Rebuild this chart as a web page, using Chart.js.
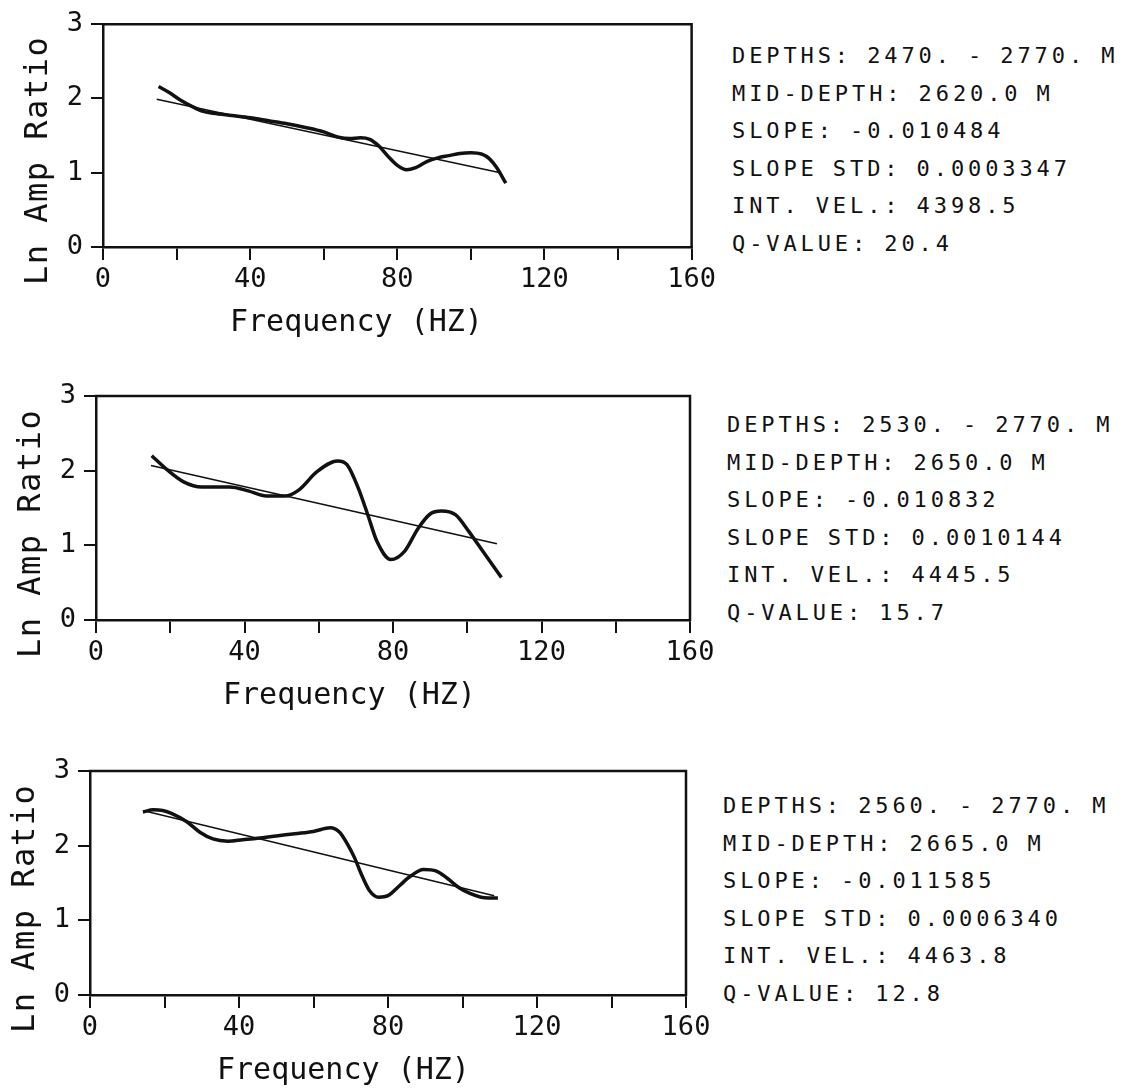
<!DOCTYPE html>
<html>
<head>
<meta charset="utf-8">
<script src="https://cdn.jsdelivr.net/npm/chart.js@4.4.1/dist/chart.umd.min.js"></script>
<style>
html,body{margin:0;padding:0;background:#fff;}
body{width:1123px;height:1091px;overflow:hidden;position:relative;}
canvas{position:absolute;left:0;}
.info{position:absolute;font-family:"DejaVu Sans Mono",monospace;font-size:22px;letter-spacing:3.9px;word-spacing:-2px;color:#111;white-space:pre;line-height:37.6px;}
</style>
</head>
<body>
<canvas id="c1"></canvas>
<canvas id="c2"></canvas>
<canvas id="c3"></canvas>
<div class="info" id="t1"></div>
<div class="info" id="t2"></div>
<div class="info" id="t3"></div>
<script>
// ---------- DATA ----------
const xTickValues = [0, 20, 40, 60, 80, 100, 120, 140, 160];
const xTickLabels = ['0', '40', '80', '120', '160'];
const yTickValues = [0, 1, 2, 3];
const yTickLabels = ['0', '1', '2', '3'];
const xTitle = 'Frequency (HZ)';
const yTitle = 'Ln Amp Ratio';

// Panel 1
const freq1  = [15.1, 18, 21, 24.3, 27, 30, 35, 40, 45, 50, 55, 60, 64, 67, 70, 72.5, 75, 77.5, 80, 82.5, 85, 88, 91, 94, 97, 100, 103, 105, 107, 109.5];
const ratio1 = [2.16, 2.08, 1.98, 1.89, 1.83, 1.80, 1.77, 1.74, 1.70, 1.66, 1.61, 1.55, 1.48, 1.46, 1.47, 1.45, 1.36, 1.22, 1.10, 1.04, 1.07, 1.15, 1.20, 1.23, 1.26, 1.27, 1.25, 1.19, 1.07, 0.86];
const fitFreq1  = [14.6, 108];
const fitRatio1 = [1.99, 1.00];
const info1 = ['DEPTHS: 2470. - 2770. M', 'MID-DEPTH: 2620.0 M', 'SLOPE: -0.010484', 'SLOPE STD: 0.0003347', 'INT. VEL.: 4398.5', 'Q-VALUE: 20.4'];

// Panel 2
const freq2  = [15, 19.2, 23.6, 28.5, 36, 41, 45.9, 50.9, 54.6, 59.6, 65.1, 67.6, 70.7, 73.2, 75.7, 79.4, 83.1, 86.8, 90, 93, 96.8, 100.5, 104.2, 109.2];
const ratio2 = [2.20, 2.01, 1.85, 1.78, 1.78, 1.73, 1.66, 1.66, 1.74, 1.99, 2.13, 2.08, 1.76, 1.41, 1.05, 0.81, 0.92, 1.23, 1.42, 1.46, 1.41, 1.18, 0.92, 0.57];
const fitFreq2  = [14.8, 108];
const fitRatio2 = [2.07, 1.02];
const info2 = ['DEPTHS: 2530. - 2770. M', 'MID-DEPTH: 2650.0 M', 'SLOPE: -0.010832', 'SLOPE STD: 0.0010144', 'INT. VEL.: 4445.5', 'Q-VALUE: 15.7'];

// Panel 3
const freq3  = [14.2, 17, 19.5, 22, 26, 29.5, 33, 37, 41, 45, 50, 55, 60, 64.5, 67, 69, 71, 73, 75, 77.5, 80, 83, 86, 89.5, 93, 96, 99, 102, 105, 107, 109.5];
const ratio3 = [2.45, 2.48, 2.47, 2.43, 2.32, 2.18, 2.09, 2.06, 2.08, 2.10, 2.13, 2.16, 2.19, 2.24, 2.18, 2.03, 1.84, 1.60, 1.40, 1.31, 1.33, 1.46, 1.59, 1.68, 1.66, 1.56, 1.44, 1.36, 1.31, 1.30, 1.30];
const fitFreq3  = [15, 108.5];
const fitRatio3 = [2.46, 1.33];
const info3 = ['DEPTHS: 2560. - 2770. M', 'MID-DEPTH: 2665.0 M', 'SLOPE: -0.011585', 'SLOPE STD: 0.0006340', 'INT. VEL.: 4463.8', 'Q-VALUE: 12.8'];

// ---------- LAYOUT ----------
const CANVAS_W = 720;
const panels = [
  {id:'c1', info:'t1', top:0,   h:360, area:{left:103, top:24,  right:695, bottom:247}, infoX:732, infoY:37,
   fx:freq1, fy:ratio1, lx:fitFreq1, ly:fitRatio1, text:info1},
  {id:'c2', info:'t2', top:360, h:370, area:{left:96,  top:396, right:690, bottom:620}, infoX:727, infoY:406,
   fx:freq2, fy:ratio2, lx:fitFreq2, ly:fitRatio2, text:info2},
  {id:'c3', info:'t3', top:740, h:351, area:{left:90,  top:771, right:686, bottom:995}, infoX:723, infoY:787,
   fx:freq3, fy:ratio3, lx:fitFreq3, ly:fitRatio3, text:info3}
];

const INK = '#111';
const tickFont = {family:'"DejaVu Sans Mono", monospace', size:27};

const framePlugin = {
  id:'frame',
  afterDraw(chart){
    const {ctx, chartArea:a} = chart;
    ctx.save();
    ctx.strokeStyle = INK; ctx.lineWidth = 2.5; ctx.lineCap = 'square';
    ctx.beginPath();
    ctx.moveTo(a.left, a.top); ctx.lineTo(a.right, a.top); ctx.lineTo(a.right, a.bottom);
    ctx.stroke();
    ctx.restore();
  }
};

const titlePlugin = {
  id:'axisTitles',
  afterDraw(chart){
    const {ctx, chartArea:a} = chart;
    ctx.save();
    ctx.fillStyle = INK;
    ctx.font = '30px "DejaVu Sans Mono", monospace';
    ctx.textAlign = 'left'; ctx.textBaseline = 'alphabetic';
    ctx.fillText(xTitle, a.left + 127, a.bottom + 84);
    ctx.translate(a.left - 56, a.bottom + 38);
    ctx.rotate(-Math.PI/2);
    ctx.font = '32px "DejaVu Sans Mono", monospace';
    if ('letterSpacing' in ctx) ctx.letterSpacing = '1.5px';
    ctx.fillText(yTitle, 0, 0);
    ctx.restore();
  }
};

panels.forEach(p => {
  const cv = document.getElementById(p.id);
  cv.width = CANVAS_W; cv.height = p.h;
  cv.style.top = p.top + 'px';
  cv.style.width = CANVAS_W + 'px'; cv.style.height = p.h + 'px';
  const relBottom = p.area.bottom - p.top;
  new Chart(cv.getContext('2d'), {
    type:'line',
    data:{
      datasets:[
        {data:p.fx.map((x,i)=>({x:x, y:p.fy[i]})), borderColor:INK, borderWidth:3.5, pointRadius:0,
         cubicInterpolationMode:'monotone', fill:false},
        {data:p.lx.map((x,i)=>({x:x, y:p.ly[i]})), borderColor:INK, borderWidth:1.6, pointRadius:0,
         tension:0, fill:false}
      ]
    },
    options:{
      responsive:false, animation:false, devicePixelRatio:1,
      layout:{padding:{top:p.area.top - p.top, right:CANVAS_W - p.area.right, left:0, bottom:0}},
      plugins:{legend:{display:false}, tooltip:{enabled:false}, title:{display:false}},
      scales:{
        x:{
          type:'linear', min:0, max:160,
          afterBuildTicks:s=>{ s.ticks = xTickValues.map(v=>({value:v})); },
          afterFit:s=>{ s.height = p.h - relBottom; },
          ticks:{autoSkip:false, maxRotation:0, minRotation:0, padding:4, color:INK, font:tickFont,
                 callback:v=> xTickLabels.includes(String(v)) ? String(v) : ''},
          grid:{drawOnChartArea:false, drawTicks:true, tickLength:13, color:INK, lineWidth:2},
          border:{display:true, color:INK, width:2.5},
          title:{display:false}
        },
        y:{
          type:'linear', min:0, max:3,
          afterBuildTicks:s=>{ s.ticks = yTickValues.map(v=>({value:v})); },
          afterFit:s=>{ s.width = p.area.left; },
          ticks:{padding:8, color:INK, font:tickFont,
                 callback:v=> yTickLabels[yTickValues.indexOf(v)]},
          grid:{drawOnChartArea:false, drawTicks:true, tickLength:12, color:INK, lineWidth:2},
          border:{display:true, color:INK, width:2.5},
          title:{display:false}
        }
      }
    },
    plugins:[framePlugin, titlePlugin]
  });
  const t = document.getElementById(p.info);
  t.style.left = p.infoX + 'px';
  t.style.top = p.infoY + 'px';
  t.textContent = p.text.join('\n');
});
</script>
</body>
</html>
